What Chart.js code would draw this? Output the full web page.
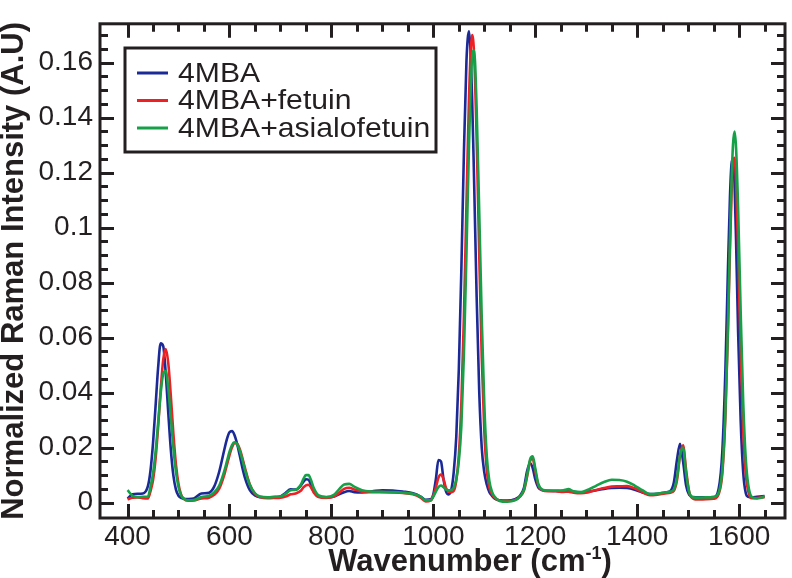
<!DOCTYPE html>
<html>
<head>
<meta charset="utf-8">
<title>Normalized Raman spectra</title>
<script src="https://cdn.jsdelivr.net/npm/chart.js@4/dist/chart.umd.min.js"></script>
<style>
  html, body { margin: 0; padding: 0; background: #fff; }
  #wrap { width: 792px; height: 578px; }
</style>
</head>
<body>
<div id="wrap"><canvas id="ramanChart" width="792" height="578"></canvas></div>
<script>
/* SERS spectra of 4MBA with and without the glycoproteins */
const wavenumbers = [
  400, 410, 420, 430, 440, 445, 450, 455, 460, 465,
  470, 475, 480, 485, 490, 495, 500, 505, 510, 520,
  530, 545, 560, 570, 580, 590, 595, 600, 605, 610,
  615, 620, 625, 630, 640, 650, 660, 675, 690, 700,
  710, 720, 730, 740, 745, 750, 755, 760, 765, 775,
  790, 805, 815, 825, 835, 845, 860, 880, 900, 920,
  940, 960, 975, 985, 995, 1000, 1005, 1010, 1015, 1020,
  1025, 1030, 1035, 1040, 1045, 1050, 1055, 1060, 1065, 1070,
  1076, 1080, 1085, 1090, 1095, 1100, 1105, 1110, 1115, 1120,
  1130, 1145, 1160, 1170, 1178, 1184, 1190, 1195, 1200, 1206,
  1214, 1225, 1240, 1255, 1265, 1275, 1290, 1305, 1320, 1335,
  1350, 1365, 1380, 1395, 1410, 1425, 1440, 1455, 1465, 1472,
  1478, 1484, 1490, 1496, 1502, 1510, 1520, 1535, 1550, 1560,
  1567, 1573, 1578, 1582, 1585, 1588, 1591, 1594, 1598, 1603,
  1608, 1613, 1618, 1625, 1635, 1645, 1650,
];

const mba = [
  0.0015, 0.0030, 0.0032, 0.0033, 0.0060, 0.0115, 0.0215, 0.0350, 0.0490, 0.0579,
  0.0569, 0.0469, 0.0325, 0.0192, 0.0098, 0.0047, 0.0025, 0.0017, 0.0014, 0.0013,
  0.0015, 0.0033, 0.0036, 0.0058, 0.0113, 0.0193, 0.0231, 0.0256, 0.0260, 0.0245,
  0.0214, 0.0173, 0.0130, 0.0093, 0.0045, 0.0026, 0.0020, 0.0019, 0.0020, 0.0022,
  0.0035, 0.0048, 0.0047, 0.0062, 0.0075, 0.0085, 0.0083, 0.0065, 0.0042, 0.0022,
  0.0019, 0.0022, 0.0030, 0.0038, 0.0042, 0.0038, 0.0037, 0.0041, 0.0045, 0.0044,
  0.0040, 0.0034, 0.0022, 0.0010, 0.0012, 0.0030, 0.0085, 0.0155, 0.0150, 0.0085,
  0.0040, 0.0030, 0.0045, 0.0110, 0.0238, 0.0483, 0.0848, 0.1270, 0.1605, 0.1714,
  0.1478, 0.1170, 0.0749, 0.0407, 0.0200, 0.0110, 0.0065, 0.0038, 0.0025, 0.0015,
  0.0008, 0.0007, 0.0012, 0.0025, 0.0055, 0.0115, 0.0143, 0.0125, 0.0085, 0.0055,
  0.0045, 0.0043, 0.0042, 0.0041, 0.0043, 0.0039, 0.0036, 0.0040, 0.0045, 0.0050,
  0.0053, 0.0054, 0.0053, 0.0047, 0.0037, 0.0031, 0.0032, 0.0037, 0.0042, 0.0074,
  0.0155, 0.0214, 0.0150, 0.0062, 0.0028, 0.0020, 0.0019, 0.0019, 0.0020, 0.0052,
  0.0185, 0.0478, 0.0844, 0.1110, 0.1230, 0.1249, 0.1160, 0.0950, 0.0620, 0.0300,
  0.0110, 0.0035, 0.0021, 0.0019, 0.0021, 0.0023, 0.0024,
];

const mbaFetuin = [
  0.0012, 0.0018, 0.0019, 0.0016, 0.0015, 0.0041, 0.0081, 0.0158, 0.0274, 0.0409,
  0.0519, 0.0558, 0.0506, 0.0387, 0.0250, 0.0139, 0.0068, 0.0030, 0.0014, 0.0007,
  0.0008, 0.0015, 0.0018, 0.0028, 0.0051, 0.0102, 0.0137, 0.0172, 0.0201, 0.0217,
  0.0215, 0.0196, 0.0165, 0.0129, 0.0066, 0.0032, 0.0020, 0.0016, 0.0017, 0.0018,
  0.0022, 0.0030, 0.0033, 0.0043, 0.0055, 0.0063, 0.0065, 0.0055, 0.0038, 0.0020,
  0.0017, 0.0022, 0.0035, 0.0050, 0.0054, 0.0048, 0.0040, 0.0038, 0.0038, 0.0037,
  0.0035, 0.0030, 0.0018, 0.0004, 0.0008, 0.0025, 0.0055, 0.0090, 0.0102, 0.0085,
  0.0052, 0.0040, 0.0038, 0.0042, 0.0079, 0.0171, 0.0362, 0.0676, 0.1084, 0.1472,
  0.1700, 0.1630, 0.1325, 0.0909, 0.0529, 0.0261, 0.0115, 0.0055, 0.0032, 0.0018,
  0.0008, 0.0006, 0.0010, 0.0022, 0.0045, 0.0095, 0.0152, 0.0160, 0.0115, 0.0063,
  0.0045, 0.0041, 0.0041, 0.0039, 0.0040, 0.0036, 0.0034, 0.0038, 0.0046, 0.0053,
  0.0058, 0.0059, 0.0060, 0.0052, 0.0038, 0.0027, 0.0029, 0.0033, 0.0036, 0.0043,
  0.0080, 0.0170, 0.0208, 0.0118, 0.0039, 0.0014, 0.0011, 0.0012, 0.0014, 0.0032,
  0.0106, 0.0311, 0.0624, 0.0920, 0.1115, 0.1236, 0.1254, 0.1164, 0.0919, 0.0550,
  0.0262, 0.0103, 0.0040, 0.0016, 0.0017, 0.0019, 0.0020,
];

const mbaAsialofetuin = [
  0.0045, 0.0025, 0.0020, 0.0021, 0.0022, 0.0057, 0.0105, 0.0184, 0.0288, 0.0396,
  0.0468, 0.0478, 0.0414, 0.0309, 0.0199, 0.0112, 0.0057, 0.0027, 0.0015, 0.0008,
  0.0009, 0.0020, 0.0025, 0.0037, 0.0062, 0.0115, 0.0150, 0.0184, 0.0209, 0.0219,
  0.0212, 0.0190, 0.0158, 0.0122, 0.0064, 0.0034, 0.0022, 0.0019, 0.0021, 0.0022,
  0.0032, 0.0045, 0.0047, 0.0065, 0.0085, 0.0100, 0.0100, 0.0082, 0.0055, 0.0026,
  0.0020, 0.0028, 0.0048, 0.0066, 0.0068, 0.0058, 0.0045, 0.0040, 0.0039, 0.0038,
  0.0036, 0.0032, 0.0022, 0.0008, 0.0008, 0.0022, 0.0040, 0.0056, 0.0062, 0.0056,
  0.0047, 0.0045, 0.0046, 0.0055, 0.0085, 0.0150, 0.0279, 0.0540, 0.0906, 0.1299,
  0.1616, 0.1645, 0.1432, 0.1062, 0.0670, 0.0359, 0.0166, 0.0078, 0.0040, 0.0022,
  0.0006, 0.0003, 0.0008, 0.0022, 0.0048, 0.0100, 0.0158, 0.0168, 0.0125, 0.0068,
  0.0047, 0.0044, 0.0044, 0.0045, 0.0049, 0.0041, 0.0038, 0.0048, 0.0062, 0.0075,
  0.0083, 0.0082, 0.0076, 0.0062, 0.0045, 0.0031, 0.0033, 0.0037, 0.0040, 0.0048,
  0.0090, 0.0172, 0.0200, 0.0106, 0.0038, 0.0019, 0.0018, 0.0019, 0.0020, 0.0037,
  0.0118, 0.0326, 0.0632, 0.0956, 0.1160, 0.1302, 0.1349, 0.1289, 0.1070, 0.0696,
  0.0367, 0.0160, 0.0063, 0.0020, 0.0015, 0.0019, 0.0022,
];

const seriesLabels = ['4MBA', '4MBA+fetuin', '4MBA+asialofetuin'];
const xTickValues = [400, 600, 800, 1000, 1200, 1400, 1600];
const yTickValues = [0, 0.02, 0.04, 0.06, 0.08, 0.1, 0.12, 0.14, 0.16];
const xMinorStep = 50;
const yMinorStep = 0.005;

const INK = '#231f20';
const FONT = "'Liberation Sans', Arial, Helvetica, sans-serif";
const COLORS = ['#1b2a96', '#ee2024', '#16a048'];

const toPoints = (vals) => vals.map((v, i) => ({ x: wavenumbers[i], y: v }));

// frame + inward ticks on all four sides, like the original plot
const frameTicks = {
    id: 'frameTicks',
    afterDraw(chart) {
        const { ctx, chartArea: a, scales: { x, y } } = chart;
        ctx.save();
        ctx.strokeStyle = INK;
        ctx.lineWidth = 3;
        ctx.beginPath();
        for (let v = xTickValues[0]; v <= 1650; v += xMinorStep) {
            const px = Math.round(x.getPixelForValue(v)) + 0.5;
            const len = xTickValues.includes(v) ? 14 : 8;
            ctx.moveTo(px, a.bottom); ctx.lineTo(px, a.bottom - len);
            ctx.moveTo(px, a.top); ctx.lineTo(px, a.top + len);
        }
        for (let k = 0; k <= 34; k++) {
            const v = +(k * yMinorStep).toFixed(3);
            const py = Math.round(y.getPixelForValue(v)) + 0.5;
            const len = k % 4 === 0 ? 14 : 8;
            ctx.moveTo(a.left, py); ctx.lineTo(a.left + len, py);
            ctx.moveTo(a.right, py); ctx.lineTo(a.right - len, py);
        }
        ctx.stroke();
        ctx.strokeRect(a.left, a.top, a.right - a.left, a.bottom - a.top);
        ctx.restore();
    },
};

// boxed legend inside the plot + x title with superscript
const overlay = {
    id: 'overlay',
    afterDraw(chart) {
        const { ctx } = chart;
        ctx.save();
        ctx.fillStyle = '#fff';
        ctx.fillRect(125, 48, 311, 104);
        ctx.strokeStyle = INK;
        ctx.lineWidth = 3;
        ctx.strokeRect(125, 48, 311, 104);

        ctx.font = `29px ${FONT}`;
        ctx.textBaseline = 'middle';
        chart.data.datasets.forEach((ds, i) => {
            const yy = 73 + i * 27.5;
            ctx.strokeStyle = ds.borderColor;
            ctx.lineWidth = 3;
            ctx.beginPath();
            ctx.moveTo(137, yy); ctx.lineTo(168, yy);
            ctx.stroke();
            ctx.fillStyle = INK;
            ctx.save();
            ctx.translate(178, yy + 1);
            ctx.scale(1.04, 0.94);
            ctx.fillText(ds.label, 0, 0);
            ctx.restore();
        });

        const main = 'Wavenumber (cm';
        const sup = '-1';
        const tail = ')';
        const big = `bold 31px ${FONT}`;
        const small = `bold 18px ${FONT}`;
        ctx.font = big;
        const wMain = ctx.measureText(main).width;
        const wTail = ctx.measureText(tail).width;
        ctx.font = small;
        const wSup = ctx.measureText(sup).width;
        let tx = 470 - (wMain + wSup + wTail) / 2;
        ctx.textBaseline = 'alphabetic';
        ctx.fillStyle = INK;
        ctx.font = big;
        ctx.fillText(main, tx, 571);
        tx += wMain;
        ctx.font = small;
        ctx.fillText(sup, tx, 559);
        tx += wSup;
        ctx.font = big;
        ctx.fillText(tail, tx, 571);
        ctx.restore();
    },
};

new Chart(document.getElementById('ramanChart'), {
    type: 'line',
    data: {
        datasets: [
            { label: seriesLabels[0], data: toPoints(mba), borderColor: COLORS[0], order: 3 },
            { label: seriesLabels[1], data: toPoints(mbaFetuin), borderColor: COLORS[1], order: 2 },
            { label: seriesLabels[2], data: toPoints(mbaAsialofetuin), borderColor: COLORS[2], order: 1 },
        ],
    },
    options: {
        responsive: false,
        devicePixelRatio: 1,
        animation: false,
        layout: { padding: { top: 3, right: 7, left: 0, bottom: 0 } },
        elements: {
            point: { radius: 0 },
            line: { borderWidth: 2.6, cubicInterpolationMode: 'monotone', fill: false },
        },
        plugins: { legend: { display: false }, tooltip: { enabled: false } },
        scales: {
            x: {
                type: 'linear',
                min: 346,
                max: 1690,
                grid: { display: false, drawTicks: false },
                border: { display: false },
                afterBuildTicks: (s) => { s.ticks = xTickValues.map((v) => ({ value: v })); },
                afterFit: (s) => { s.height = 60; },
                ticks: {
                    autoSkip: false,
                    maxRotation: 0,
                    padding: 2,
                    color: INK,
                    font: { family: FONT, size: 28 },
                    callback: (v) => String(v),
                },
            },
            y: {
                type: 'linear',
                min: -0.0056,
                max: 0.1741,
                grid: { display: false, drawTicks: false },
                border: { display: false },
                afterBuildTicks: (s) => { s.ticks = yTickValues.map((v) => ({ value: v })); },
                afterFit: (s) => { s.width = 100; },
                ticks: {
                    autoSkip: false,
                    padding: 7,
                    color: INK,
                    font: { family: FONT, size: 28 },
                    callback: (v) => String(Number(v.toFixed(3))),
                },
                title: {
                    display: true,
                    text: 'Normalized Raman Intensity (A.U)',
                    color: INK,
                    padding: { top: 1, bottom: 0 },
                    font: { family: FONT, size: 31, weight: 'bold', lineHeight: 0.9 },
                },
            },
        },
    },
    plugins: [frameTicks, overlay],
});
</script>
</body>
</html>
